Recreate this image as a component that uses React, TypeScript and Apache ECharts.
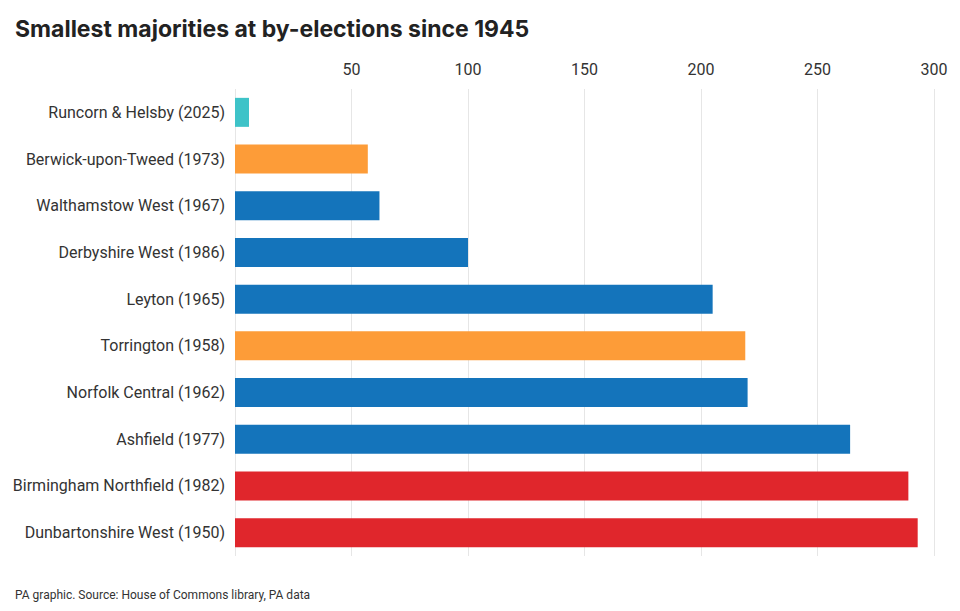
import { useEffect, useRef } from "react";
import * as echarts from "echarts";

const categories = [
  "Runcorn & Helsby (2025)",
  "Berwick-upon-Tweed (1973)",
  "Walthamstow West (1967)",
  "Derbyshire West (1986)",
  "Leyton (1965)",
  "Torrington (1958)",
  "Norfolk Central (1962)",
  "Ashfield (1977)",
  "Birmingham Northfield (1982)",
  "Dunbartonshire West (1950)",
];
const majorities = [6, 57, 62, 100, 205, 219, 220, 264, 289, 293];
const parties = ["reform", "lib", "con", "con", "con", "lib", "con", "con", "lab", "lab"];
const partyColours: Record<string, string> = {
  reform: "#3ec3c8",
  lib: "#fd9c38",
  con: "#1474bb",
  lab: "#e0262c",
};

export default function App() {
  const ref = useRef<HTMLDivElement>(null);

  useEffect(() => {
    if (!ref.current) return;
    const chart = echarts.init(ref.current, null, { renderer: "svg" });
    chart.setOption({
      animation: false,
      backgroundColor: "#fff",
      textStyle: { fontFamily: "Roboto" },
      title: [
        {
          text: "Smallest majorities at by-elections since 1945",
          left: 10,
          top: 12,
          textStyle: { fontSize: 23, fontWeight: "bold", color: "#222", fontFamily: "Inter" },
        },
        {
          text: "PA graphic. Source: House of Commons library, PA data",
          left: 10,
          top: 584,
          textStyle: { fontSize: 12, fontWeight: "normal", color: "#333", fontFamily: "Roboto" },
        },
      ],
      grid: { left: 235, right: 26, top: 89, bottom: 55 },
      xAxis: {
        type: "value",
        position: "top",
        min: 0,
        max: 300,
        interval: 50,
        axisLine: { show: false },
        axisTick: { show: false },
        axisLabel: {
          color: "#333",
          fontSize: 16,
          margin: 12,
          formatter: (v: number) => (v === 0 ? "" : String(v)),
        },
        splitLine: { lineStyle: { color: "#e6e6e6" } },
      },
      yAxis: {
        type: "category",
        inverse: true,
        data: categories,
        axisLine: { show: false },
        axisTick: { show: false },
        axisLabel: { color: "#333", fontSize: 16, margin: 10 },
      },
      series: [
        {
          type: "bar",
          barWidth: 29,
          data: majorities.map((v, i) => ({
            value: v,
            itemStyle: { color: partyColours[parties[i]] },
          })),
        },
      ],
    });
    return () => chart.dispose();
  }, []);

  return (
    <div
      ref={ref}
      style={{ position: "fixed", left: 0, top: 0, width: 960, height: 611 }}
    />
  );
}
